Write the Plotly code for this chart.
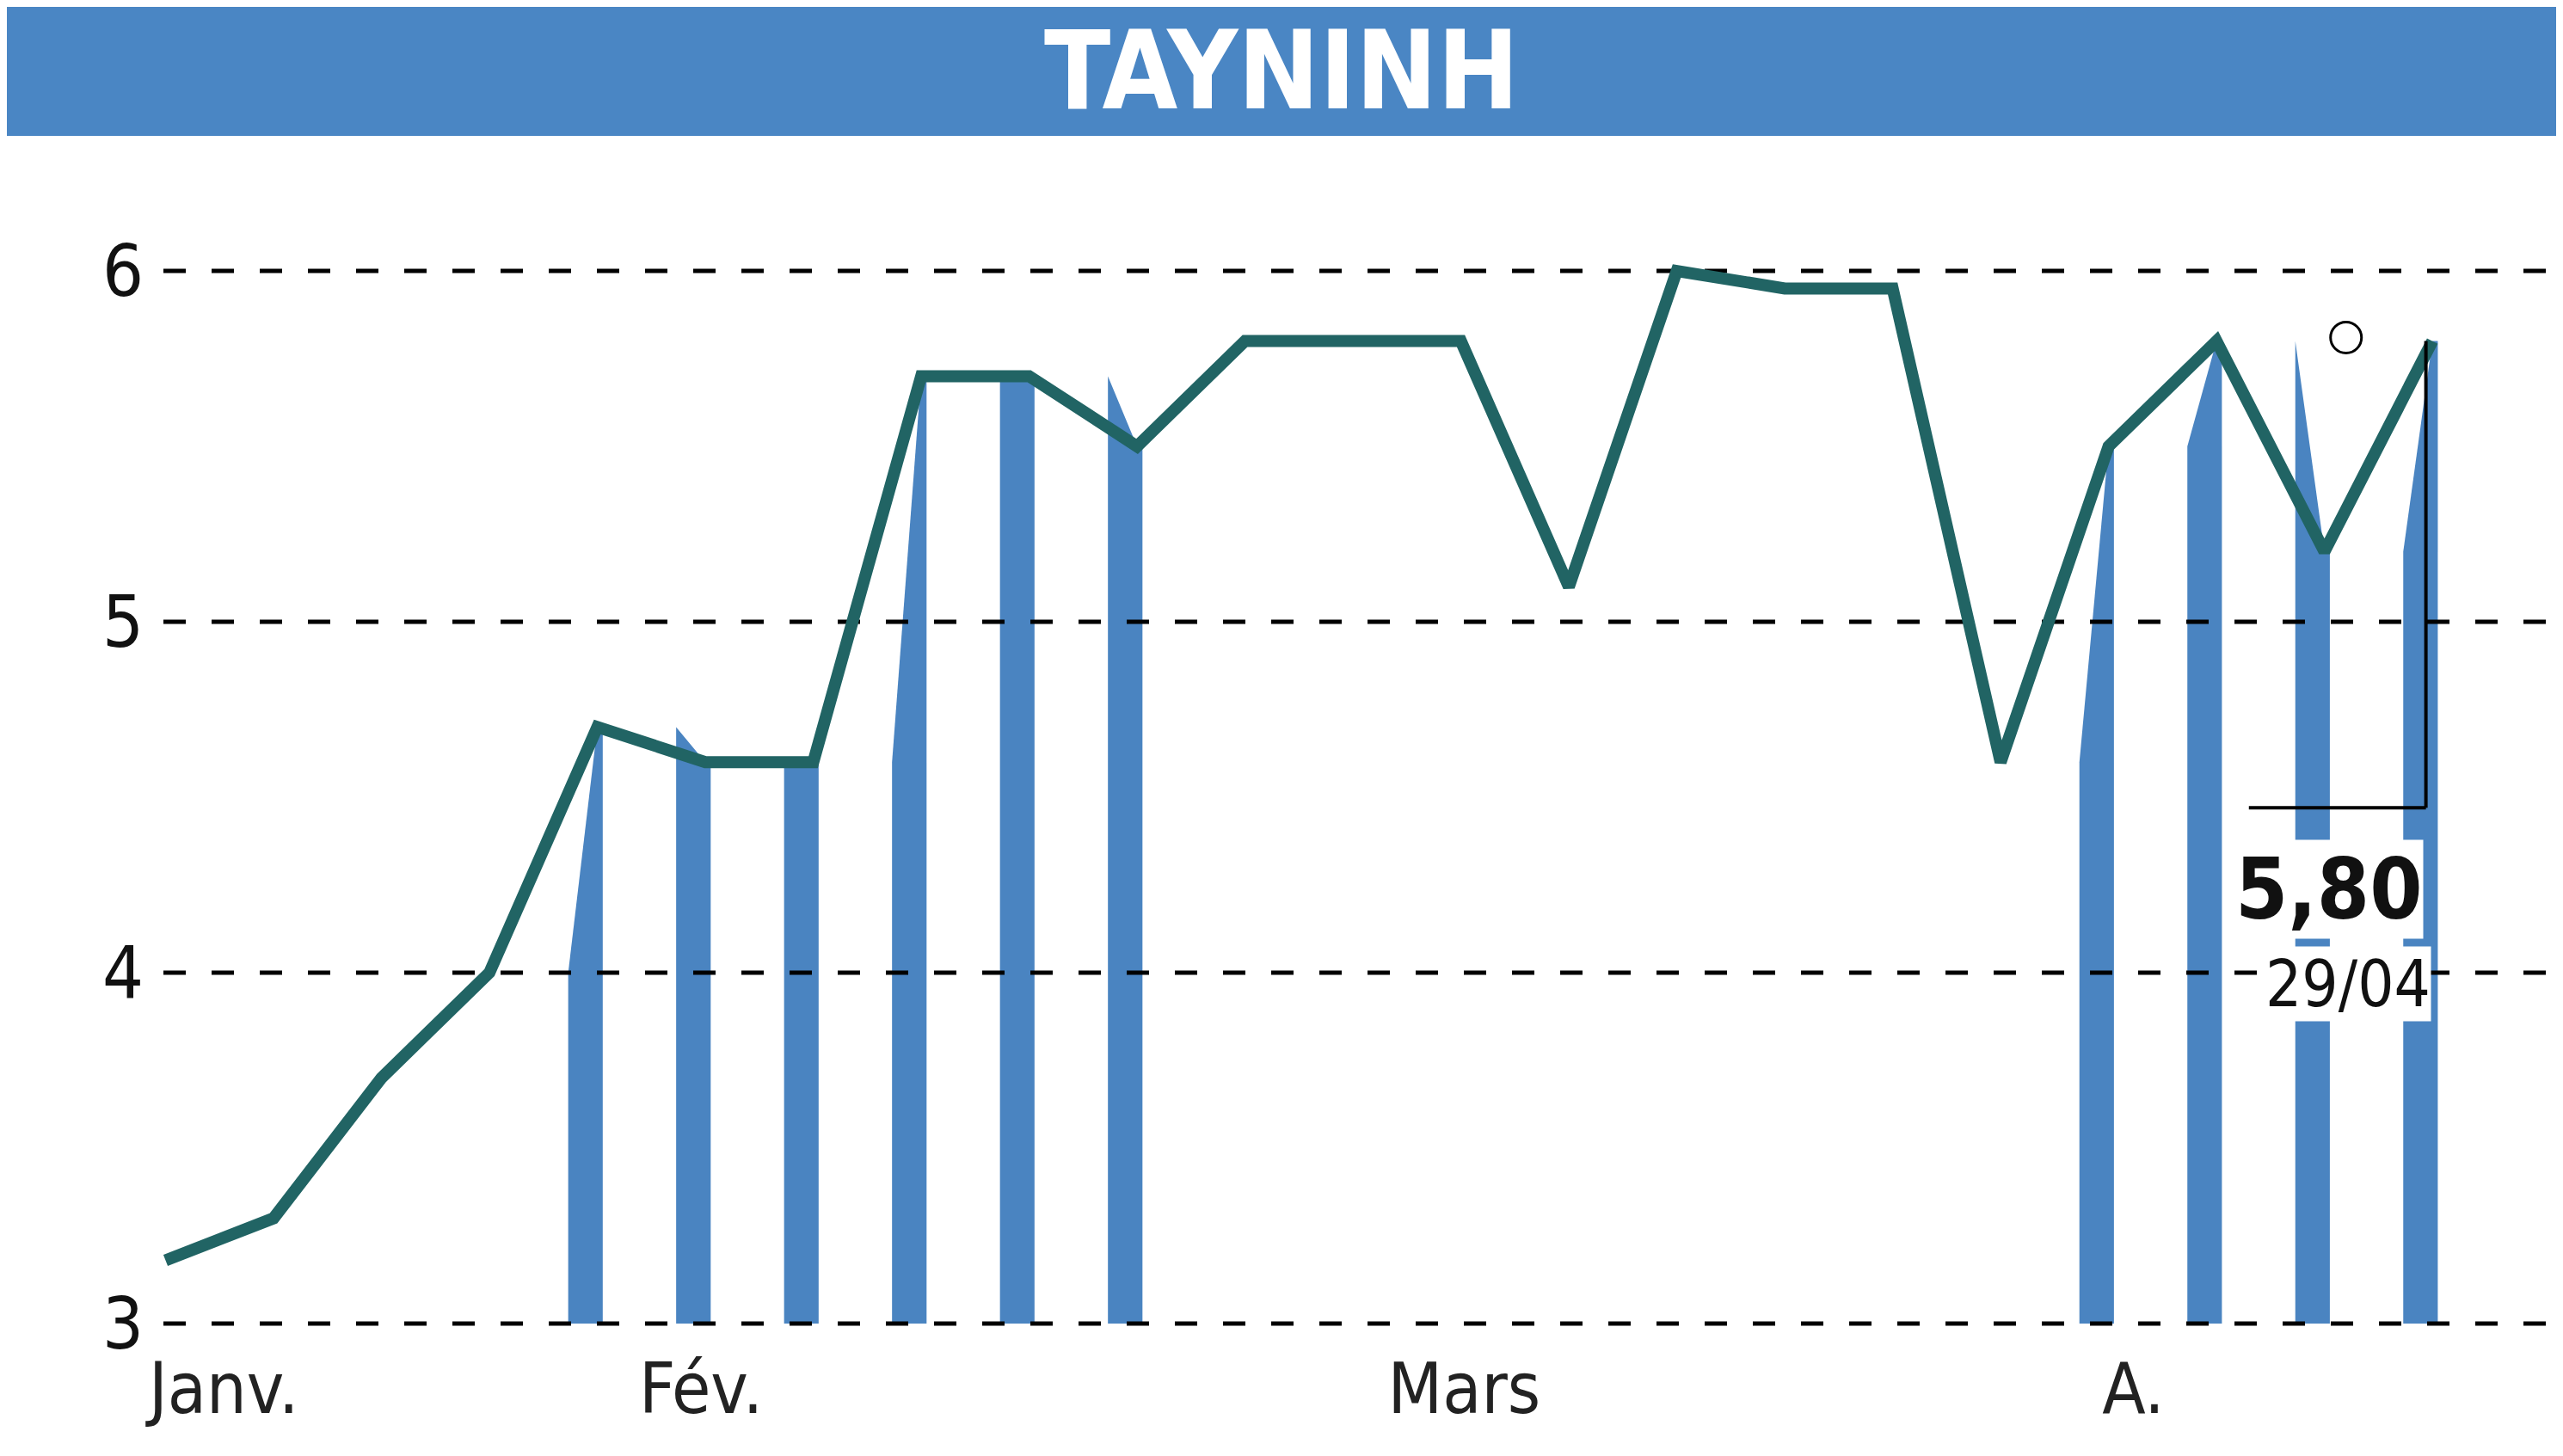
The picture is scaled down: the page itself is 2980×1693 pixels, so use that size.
import plotly.graph_objects as go

# ---- data ----
title = "TAYNINH"
prices = [3.18, 3.30, 3.70, 4.00, 4.70, 4.60, 4.60, 5.70, 5.70, 5.50, 5.80,
          5.80, 5.80, 5.10, 6.00, 5.95, 5.95, 4.60, 5.50, 5.80, 5.20, 5.80]
bar_points = [4, 5, 6, 7, 8, 9, 18, 19, 20, 21]   # sessions with volume bars
month_labels = ["Janv.", "Fév.", "Mars", "A."]
month_pos = [0.54, 4.96, 12.03, 18.23]
y_ticks = [3, 4, 5, 6]
last_value_text = "5,80"
last_date_text = "29/04"

# ---- style ----
W, H = 2972, 1685          # page body has an 8px margin
BLUE = "#4a84c1"
LINE = "#216464"
FONT = "DejaVu Sans Condensed, Liberation Sans Narrow, Arial Narrow, sans-serif"
plot_left, plot_top, plot_bottom = 182, 164, 1537
y_lo, y_hi = 2.9853, 6.3505
x_lo, x_hi = -0.02, 22.21

xs = list(range(len(prices)))
fig = go.Figure()

# volume-style bars: strips whose top follows the previous -> current price
for i in bar_points:
    prev = prices[i - 1] if i > 0 else prices[i]
    L, R = i - 0.27, i + 0.05
    fig.add_trace(go.Scatter(
        x=[L, L, i, R, R, L], y=[y_ticks[0], prev, prices[i], prices[i], y_ticks[0], y_ticks[0]],
        fill="toself", fillcolor=BLUE, line=dict(width=0), mode="lines",
        hoverinfo="skip", showlegend=False))

# dashed gridlines (above bars, below price line)
for t in y_ticks:
    fig.add_trace(go.Scatter(
        x=[x_lo, x_hi], y=[t, t], mode="lines",
        line=dict(color="black", width=5, dash="26px,30px"),
        hoverinfo="skip", showlegend=False))

# price line
fig.add_trace(go.Scatter(
    x=xs, y=prices, mode="lines", line=dict(color=LINE, width=14),
    showlegend=False))

# small open circle marker near the end
fig.add_trace(go.Scatter(
    x=[xs[-1] - 0.8], y=[prices[-1] + 0.01], mode="markers",
    marker=dict(symbol="circle-open", size=36, color="black", line=dict(width=3)),
    hoverinfo="skip", showlegend=False))

ph = plot_bottom - plot_top
def paper_y(px):
    return (plot_bottom - px) / ph

shapes = [
    # title bar
    dict(type="rect", xref="paper", yref="paper", x0=-plot_left / (W - plot_left), x1=1.0,
         y0=paper_y(150), y1=paper_y(0), fillcolor="#4a86c4", line=dict(width=0),
         layer="below"),
    # last value bracket
    dict(type="line", xref="x", yref="y", x0=xs[-1] - 0.06, x1=xs[-1] - 0.06,
         y0=prices[-1], y1=4.47, line=dict(color="black", width=4)),
    dict(type="line", xref="x", yref="y", x0=xs[-1] - 1.7, x1=xs[-1] - 0.06,
         y0=4.47, y1=4.47, line=dict(color="black", width=4)),
]

annotations = [
    dict(text="<b>" + last_value_text + "</b>", x=xs[-1] - 0.08, y=4.38, xref="x", yref="y",
         xanchor="right", yanchor="top", showarrow=False, bgcolor="white",
         font=dict(family=FONT, size=98, color="#111111"), borderpad=0),
    dict(text=last_date_text, x=xs[-1] - 0.01, y=4.075, xref="x", yref="y",
         xanchor="right", yanchor="top", showarrow=False, bgcolor="white",
         font=dict(family=FONT, size=74, color="#111111"), borderpad=0),
]

fig.update_layout(
    width=W, height=H,
    margin=dict(l=plot_left, r=0, t=plot_top, b=H - plot_bottom),
    paper_bgcolor="white", plot_bgcolor="white",
    title=dict(text="<b>" + title + "</b>", x=(1490 - 8) / W, xref="container", xanchor="center",
               y=1 - 74 / H, yref="container", yanchor="middle",
               font=dict(family=FONT, size=126, color="white")),
    shapes=shapes, annotations=annotations,
    xaxis=dict(range=[x_lo, x_hi], showgrid=False, zeroline=False, showline=False,
               tickmode="array", tickvals=month_pos, ticktext=month_labels,
               ticks="", ticklabelstandoff=15,
               tickfont=dict(family=FONT, size=82, color="#222222")),
    yaxis=dict(range=[y_lo, y_hi], showgrid=False, zeroline=False, showline=False,
               tickmode="array", tickvals=y_ticks, ticktext=[str(t) for t in y_ticks],
               ticks="", ticklabelstandoff=22,
               tickfont=dict(family=FONT, size=84, color="#111111")),
)

fig.write_html("out.html")
